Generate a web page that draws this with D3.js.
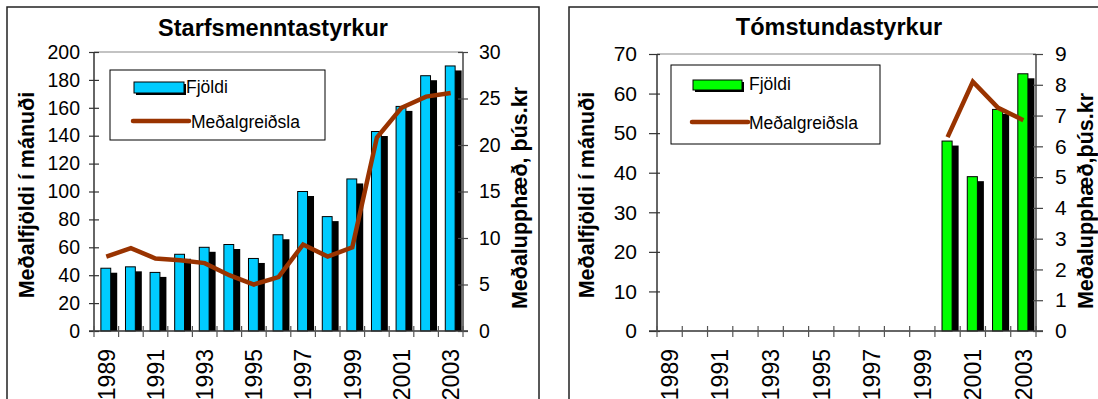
<!DOCTYPE html>
<html><head><meta charset="utf-8">
<script src="https://cdn.jsdelivr.net/npm/d3@7"></script>
<style>
html,body{margin:0;padding:0;background:#fff;}
svg{display:block;font-family:"Liberation Sans",Arial,sans-serif;}
</style></head>
<body>
<svg id="c" width="1098" height="399"></svg>
<script>
// ---- data ----
const years = ["1989","1990","1991","1992","1993","1994","1995","1996","1997","1998","1999","2000","2001","2002","2003"];
const yearLabels = ["1989","1991","1993","1995","1997","1999","2001","2003"];

const starfFjoldi   = [45, 46, 42, 55, 60, 62, 52, 69, 100, 82, 109, 143, 161, 183, 190];
const starfGreidsla = [8.0, 8.9, 7.8, 7.6, 7.3, 6.0, 5.0, 5.8, 9.3, 8.0, 9.0, 20.8, 24.0, 25.2, 25.6];

const tomFjoldi   = [null,null,null,null,null,null,null,null,null,null,null, 48, 39, 56, 65];
const tomGreidsla = [null,null,null,null,null,null,null,null,null,null,null, 6.3, 8.1, 7.25, 6.85];

const starfLeftTicks  = [0,20,40,60,80,100,120,140,160,180,200];
const starfRightTicks = [0,5,10,15,20,25,30];
const tomLeftTicks  = [0,10,20,30,40,50,60,70];
const tomRightTicks = [0,1,2,3,4,5,6,7,8,9];

const titles = ["Starfsmenntastyrkur","Tómstundastyrkur"];
const leftTitle = "Meðalfjöldi í mánuði";
const rightTitles = ["Meðalupphæð, þús.kr","Meðalupphæð,þús.kr"];
const legendNames = ["Fjöldi","Meðalgreiðsla"];

const svg = d3.select("#c");
const FONT = "'Liberation Sans', Arial, sans-serif";
const LINE = "#993300";

function chart(o){
  const g = svg.append("g");
  g.append("rect").attr("x",o.frame[0]).attr("y",o.frame[1]).attr("width",o.frame[2]).attr("height",o.frame[3])
    .attr("fill","#fff").attr("stroke","#222").attr("stroke-width",1.5);
  const x = d3.scaleBand().domain(years).range([o.x0,o.x1]).padding(0);
  const yL = d3.scaleLinear().domain([0,o.leftMax]).range([o.yb,o.yt]);
  const yR = d3.scaleLinear().domain([0,o.rightMax]).range([o.yb,o.yt]);
  const bw = x.bandwidth()*0.4;
  const sdx = 6.5, sdy = 4.5;

  g.append("line").attr("x1",o.x0).attr("x2",o.x1).attr("y1",o.yt).attr("y2",o.yt).attr("stroke","#888").attr("stroke-width",1.2);

  const data = years.map((y,i)=>({y, v:o.bars[i], l:o.line[i]}));
  const bd = data.filter(d=>d.v!=null);
  g.selectAll(".sh").data(bd).enter().append("rect")
    .attr("x",d=>x(d.y)+x.bandwidth()/2-bw/2-0.5+sdx)
    .attr("y",d=>yL(d.v)+sdy)
    .attr("width",bw).attr("height",d=>o.yb-yL(d.v)-sdy).attr("fill","#000");
  g.selectAll(".bar").data(bd).enter().append("rect")
    .attr("x",d=>x(d.y)+x.bandwidth()/2-bw/2-0.5)
    .attr("y",d=>yL(d.v))
    .attr("width",bw).attr("height",d=>o.yb-yL(d.v))
    .attr("fill",o.color).attr("stroke","#000").attr("stroke-width",1);

  g.append("line").attr("x1",o.x0).attr("x2",o.x0).attr("y1",o.yt).attr("y2",o.yb).attr("stroke","#333").attr("stroke-width",1.5);
  g.append("line").attr("x1",o.x1).attr("x2",o.x1).attr("y1",o.yt).attr("y2",o.yb).attr("stroke","#444").attr("stroke-width",1.5);
  g.append("line").attr("x1",o.x0-o.tl).attr("x2",o.x1+o.tr).attr("y1",o.yb).attr("y2",o.yb).attr("stroke","#333").attr("stroke-width",1.5);

  const la = g.append("g").attr("transform",`translate(${o.x0},0)`)
    .call(d3.axisLeft(yL).tickValues(o.leftTicks).tickSize(o.tl).tickPadding(o.lpad));
  la.select(".domain").remove();
  la.selectAll(".tick line").attr("x2",-o.tl).attr("x1",o.tli).attr("stroke","#333").attr("stroke-width",1.2);
  la.selectAll(".tick text").attr("font-size",o.tickFont).attr("font-family",FONT).attr("fill","#000");

  const ra = g.append("g").attr("transform",`translate(${o.x1},0)`)
    .call(d3.axisRight(yR).tickValues(o.rightTicks).tickSize(o.tr).tickPadding(o.rpad));
  ra.select(".domain").remove();
  ra.selectAll(".tick line").attr("x2",o.tr).attr("x1",-o.tri).attr("stroke","#444").attr("stroke-width",1.2);
  ra.selectAll(".tick text").attr("font-size",o.tickFont).attr("font-family",FONT).attr("fill","#000");

  const bounds = years.map(y=>x(y)).concat([o.x1]);
  g.selectAll(".xt").data(bounds).enter().append("line")
    .attr("x1",d=>d).attr("x2",d=>d).attr("y1",o.yb-5).attr("y2",o.yb+6)
    .attr("stroke","#555").attr("stroke-width",1.2);

  const xa = g.append("g").attr("transform",`translate(0,${o.yb})`)
    .call(d3.axisBottom(x).tickValues(yearLabels).tickSize(0));
  xa.select(".domain").remove();
  xa.selectAll(".tick text")
    .attr("font-size",o.xFont).attr("font-family",FONT).attr("fill","#000")
    .attr("text-anchor","end").attr("transform","rotate(-90)")
    .attr("x",-(o.xLabTop-o.yb)).attr("y",0).attr("dy","0.36em");

  const ld = data.filter(d=>d.l!=null);
  g.append("path").datum(ld)
    .attr("d",d3.line().x(d=>x(d.y)+x.bandwidth()/2).y(d=>yR(d.l)))
    .attr("fill","none").attr("stroke",LINE).attr("stroke-width",4.5).attr("stroke-linejoin","miter");

  g.append("text").attr("x",o.titleX).attr("y",o.titleY).attr("text-anchor","middle")
    .attr("font-size",o.titleFont).attr("font-weight","bold").attr("font-family",FONT).text(o.title);

  g.append("text").attr("transform",`translate(${o.ltX},${o.ltY}) rotate(-90)`).attr("text-anchor","middle")
    .attr("font-size",o.axFont).attr("font-weight","bold").attr("font-family",FONT).text(leftTitle);
  g.append("text").attr("transform",`translate(${o.rtX},${o.rtY}) rotate(-90)`).attr("text-anchor","middle")
    .attr("font-size",o.axFont).attr("font-weight","bold").attr("font-family",FONT).text(o.rightTitle);

  const L = o.legend;
  g.append("rect").attr("x",L.x).attr("y",L.y).attr("width",L.w).attr("height",L.h)
    .attr("fill","#fff").attr("stroke","#000").attr("stroke-width",1);
  g.append("rect").attr("x",L.sx+2).attr("y",L.sy+2).attr("width",L.sw).attr("height",L.sh).attr("fill","#000");
  g.append("rect").attr("x",L.sx).attr("y",L.sy).attr("width",L.sw).attr("height",L.sh)
    .attr("fill",o.color).attr("stroke","#000").attr("stroke-width",1);
  g.append("text").attr("x",L.tx).attr("y",L.sy+L.sh-0.5).attr("font-size",L.font).attr("font-family",FONT).text(legendNames[0]);
  g.append("line").attr("x1",L.sx-1).attr("x2",L.sx+L.lw).attr("y1",L.ly).attr("y2",L.ly)
    .attr("stroke",LINE).attr("stroke-width",4.5).attr("stroke-linecap","round");
  g.append("text").attr("x",L.tx2).attr("y",L.ly+6.5).attr("font-size",L.font).attr("font-family",FONT).text(legendNames[1]);
}

chart({
  frame:[7,7,532,420], x0:94, x1:463, yt:52, yb:331,
  leftMax:200, rightMax:30, leftTicks:starfLeftTicks, rightTicks:starfRightTicks,
  bars:starfFjoldi, line:starfGreidsla, color:"#00CCFF",
  tl:5, tli:5, tr:5, tri:5, lpad:9, rpad:11, tickFont:"19.5px", xFont:"23px", xLabTop:349,
  title:titles[0], titleX:273, titleY:36, titleFont:"23.5px",
  ltX:34, ltY:195, rtX:527, rtY:198, axFont:"21.5px", rightTitle:rightTitles[0],
  legend:{x:110,y:70,w:215,h:70, sx:134,sy:82,sw:50,sh:11, tx:186, lw:55, ly:121, tx2:191, font:"17.5px"}
});
chart({
  frame:[569,7,560,420], x0:657, x1:1036, yt:54, yb:331,
  leftMax:70, rightMax:9, leftTicks:tomLeftTicks, rightTicks:tomRightTicks,
  bars:tomFjoldi, line:tomGreidsla, color:"#00FF00",
  tl:8, tli:3, tr:7, tri:3, lpad:12, rpad:12, tickFont:"21px", xFont:"23px", xLabTop:349,
  title:titles[1], titleX:839, titleY:35, titleFont:"23.5px",
  ltX:594, ltY:195, rtX:1093, rtY:201, axFont:"21.5px", rightTitle:rightTitles[1],
  legend:{x:671,y:65,w:209,h:79, sx:693,sy:80,sw:49,sh:10, tx:749, lw:55, ly:122, tx2:749, font:"17.5px"}
});
</script>
</body></html>
